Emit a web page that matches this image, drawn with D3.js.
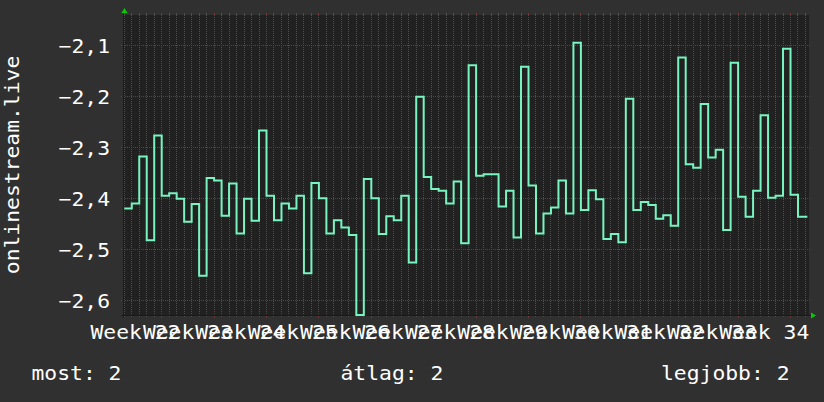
<!DOCTYPE html>
<html><head><meta charset="utf-8">
<script src="https://cdn.jsdelivr.net/npm/d3@7/dist/d3.min.js"></script>
<style>
html,body{margin:0;padding:0;background:#303030;}
svg{display:block;}
text{font-family:"DejaVu Sans Mono",monospace;fill:#ffffff;}
</style></head><body>
<svg id="chart" width="824" height="402"></svg>
<script>
// ---- data ----
const firstDay = "2020-05-27";           // first daily sample (UTC)
const dailyValues = [
  -2.420, -2.410, -2.318, -2.482, -2.277, -2.395, -2.390, -2.401, -2.446, -2.411,
  -2.552, -2.360, -2.365, -2.434, -2.371, -2.469, -2.401, -2.444, -2.267, -2.395,
  -2.443, -2.410, -2.420, -2.395, -2.547, -2.370, -2.400, -2.469, -2.443, -2.457,
  -2.472, -2.629, -2.362, -2.400, -2.470, -2.435, -2.443, -2.395, -2.526, -2.201,
  -2.358, -2.382, -2.385, -2.410, -2.367, -2.488, -2.139, -2.356, -2.353, -2.353,
  -2.416, -2.385, -2.477, -2.142, -2.375, -2.469, -2.430, -2.418, -2.365, -2.430,
  -2.095, -2.423, -2.384, -2.402, -2.480, -2.470, -2.486, -2.205, -2.423, -2.407,
  -2.413, -2.440, -2.433, -2.454, -2.124, -2.333, -2.340, -2.215, -2.320, -2.305,
  -2.462, -2.134, -2.397, -2.436, -2.385, -2.237, -2.399, -2.395, -2.107, -2.393,
  -2.436
];
const yTickValues = [-2.1, -2.2, -2.3, -2.4, -2.5, -2.6];
const weekLabelPrefix = "Week ";
const yAxisTitle = "onlinestream.live";
const legendNames = ["most", "átlag", "legjobb"];
const legendValues = [2, 2, 2];

// ---- layout ----
const W = 824, H = 402;
const plot = {left: 124, right: 809, top: 15, bottom: 315};
const CW = 12.85;   // glyph advance of the (wide) mono font
const FS = 20;
const C = {
  bg: "#303030", canvas: "#212121", line: "#78f4c0",
  minor: "#4e4e4e", major: "#7a3434", arrow: "#00d000", axis: "#1a1a1a"
};

const svg = d3.select("#chart");
svg.append("rect").attr("width", W).attr("height", H).attr("fill", C.bg);

function label(sel, str) {
  return sel.attr("font-size", FS)
    .attr("textLength", str.length * CW)
    .attr("lengthAdjust", "spacingAndGlyphs")
    .text(str);
}

const t0 = new Date(Date.UTC(2020, 4, 26, 23, 8));
const t1 = new Date(Date.UTC(2020, 7, 26, 11, 17));
const x = d3.scaleUtc().domain([t0, t1]).range([plot.left, plot.right]);
const y = d3.scaleLinear().domain([-2.6288, -2.0406]).range([plot.bottom, plot.top]);

const hu = d3.formatLocale({decimal: ",", thousands: "\u00a0", grouping: [3], currency: ["", " Ft"]});
const yFmt = hu.format(".1f");

svg.append("rect").attr("x", plot.left).attr("y", plot.top)
  .attr("width", plot.right - plot.left).attr("height", plot.bottom - plot.top)
  .attr("fill", C.canvas);

const px = v => Math.floor(v) + 0.5;
const grid = svg.append("g");

// minor (daily) and major (weekly) vertical grid
const days = d3.utcDay.range(d3.utcDay.ceil(t0), t1);
days.forEach(d => {
  const isMonday = d.getUTCDay() === 1;
  const xx = px(x(d));
  const col = isMonday ? C.major : C.minor;
  grid.append("line").attr("x1", xx).attr("x2", xx)
    .attr("y1", plot.top).attr("y2", plot.bottom)
    .attr("stroke", col).attr("stroke-dasharray", "1,1");
  grid.append("line").attr("x1", xx).attr("x2", xx)
    .attr("y1", plot.top - 2).attr("y2", plot.top).attr("stroke", col);
  grid.append("line").attr("x1", xx).attr("x2", xx)
    .attr("y1", plot.bottom).attr("y2", plot.bottom + (isMonday ? 3 : 2)).attr("stroke", col);
});

// horizontal grid + y tick labels
yTickValues.forEach(v => {
  const yy = px(y(v));
  grid.append("line").attr("x1", plot.left - 3).attr("x2", plot.right + 2)
    .attr("y1", yy).attr("y2", yy)
    .attr("stroke", C.major).attr("stroke-dasharray", "1,1");
  label(svg.append("text").attr("x", 110).attr("y", yy + 7.5).attr("text-anchor", "end"), yFmt(v));
});

// axis lines
svg.append("line").attr("x1", plot.left - 0.5).attr("x2", plot.left - 0.5)
  .attr("y1", plot.top - 2).attr("y2", plot.bottom + 3).attr("stroke", C.axis);
svg.append("line").attr("x1", plot.left - 3).attr("x2", plot.right + 2)
  .attr("y1", plot.bottom + 0.5).attr("y2", plot.bottom + 0.5).attr("stroke", C.axis);

// data line
const start = new Date(firstDay + "T00:00:00Z");
const pts = dailyValues.map((v, i) => ({t: d3.utcDay.offset(start, i), v}));
pts.push({t: d3.utcHour.offset(d3.utcDay.offset(start, dailyValues.length - 1), 30), v: dailyValues[dailyValues.length - 1]});

svg.append("clipPath").attr("id", "clip").append("rect")
  .attr("x", plot.left).attr("y", plot.top)
  .attr("width", plot.right - plot.left).attr("height", plot.bottom - plot.top + 1);

svg.append("path").datum(pts)
  .attr("clip-path", "url(#clip)")
  .attr("fill", "none").attr("stroke", C.line).attr("stroke-width", 2)
  .attr("d", d3.line().x(d => x(d.t)).y(d => y(d.v)).curve(d3.curveStepAfter));

// arrows
svg.append("path").attr("fill", C.arrow)
  .attr("d", `M${plot.left - 2.5},13 L${plot.left + 0.5},8 L${plot.left + 3.5},13 Z`);
svg.append("path").attr("fill", C.arrow)
  .attr("d", `M${plot.right + 2},${plot.bottom - 2.5} L${plot.right + 7},${plot.bottom + 0.5} L${plot.right + 2},${plot.bottom + 3.5} Z`);

// week labels centred in each week
const fmtWeek = d3.utcFormat("%V");
const mondays = d3.utcMonday.range(d3.utcMonday.floor(t0), t1);
mondays.forEach(m => {
  const mid = d3.utcHour.offset(m, 84);
  if (mid > t1) return;
  label(svg.append("text").attr("x", x(mid)).attr("y", 339).attr("text-anchor", "middle"),
        weekLabelPrefix + fmtWeek(m));
});

// y axis title
label(svg.append("text")
  .attr("transform", `translate(19,${(plot.top + plot.bottom) / 2}) rotate(-90)`)
  .attr("text-anchor", "middle"), yAxisTitle);

// legend / footer
const legendX = [31.5, 340.5, 661];
legendNames.forEach((n, i) => {
  label(svg.append("text").attr("x", legendX[i]).attr("y", 380), `${n}: ${legendValues[i]}`);
});
</script>
</body></html>
